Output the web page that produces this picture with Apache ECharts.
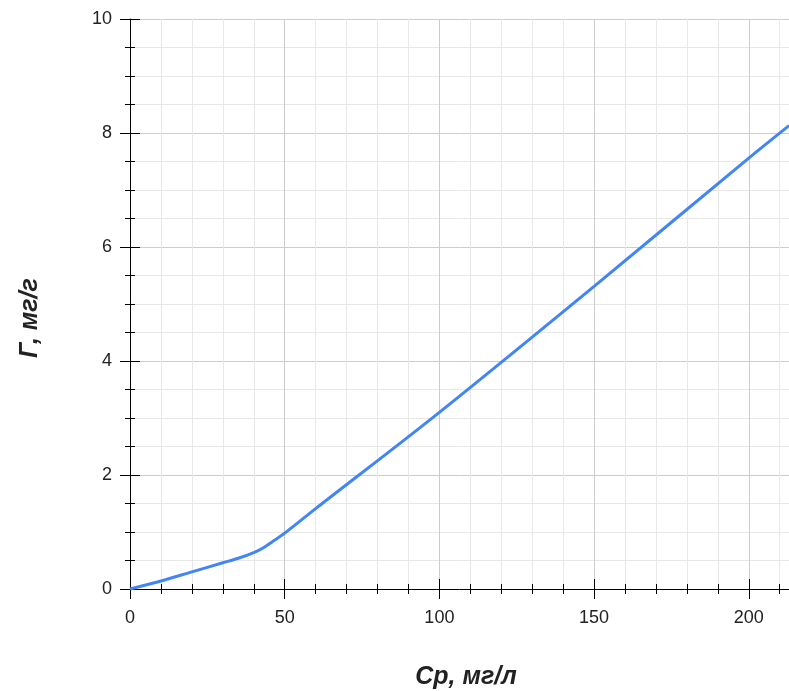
<!DOCTYPE html>
<html>
<head>
<meta charset="utf-8">
<script src="https://cdn.jsdelivr.net/npm/echarts@6/dist/echarts.min.js"></script>
<style>html,body{margin:0;padding:0;background:#fff}#c{width:789px;height:691px}</style>
</head>
<body>
<div id="c"></div>
<script>
const xValues = [0, 10, 20, 30, 35, 40, 43, 46, 50, 60, 100, 150, 200, 213];
const yValues = [0, 0.14, 0.30, 0.46, 0.54, 0.64, 0.72, 0.83, 0.98, 1.41, 3.10, 5.31, 7.56, 8.13];
const xTitle = 'Ср, мг/л';
const yTitle = 'Г, мг/г';
const xMin = 0, xMax = 213, xStep = 50;
const yMin = 0, yMax = 10, yStep = 2;

const font = '"Liberation Sans", Arial, sans-serif';
const chart = echarts.init(document.getElementById('c'), null, {renderer: 'canvas'});
const data = xValues.map((x, i) => [x, yValues[i]]);
const tickStyle = {color: '#000', width: 1};

// kind: 'main' (line, labels, grid), 'major' (crossing major ticks), 'minor' (crossing minor ticks)
function axisBase(kind, min, max, step, split, pos, labelMargin) {
  const main = kind === 'main';
  return {
    type: 'value', position: pos, gridIndex: 0,
    min: min, max: max, interval: step,
    offset: kind === 'major' ? -10 : (kind === 'minor' ? -5 : 0),
    axisLine: {show: main, onZero: false, lineStyle: {color: '#000', width: 1}},
    axisTick: {show: kind === 'major', inside: false, length: 20, lineStyle: tickStyle},
    minorTick: {show: kind === 'minor', splitNumber: split, length: 10, lineStyle: tickStyle},
    axisLabel: {show: main, margin: labelMargin, fontSize: 18, color: '#222', fontFamily: font, showMaxLabel: pos === 'left'},
    splitLine: {show: main, lineStyle: {color: '#cccccc', width: 1}},
    minorSplitLine: {show: main, lineStyle: {color: '#e8e8e8', width: 1}}
  };
}

chart.setOption({
  animation: false,
  backgroundColor: '#fff',
  grid: {left: 130, right: 0, top: 19, bottom: 102, containLabel: false},
  xAxis: ['main', 'major', 'minor'].map(k => axisBase(k, xMin, xMax, xStep, 5, 'bottom', 20)),
  yAxis: ['main', 'major', 'minor'].map(k => axisBase(k, yMin, yMax, yStep, 4, 'left', 18)),
  series: [{
    type: 'line', xAxisIndex: 0, yAxisIndex: 0,
    data: data, showSymbol: false, smooth: 0.3,
    lineStyle: {color: '#4285f4', width: 3},
    clip: true
  }],
  graphic: [
    {type: 'text', x: 466, y: 677, style: {text: xTitle, fontSize: 25, fontWeight: 'bold', fontStyle: 'italic', fontFamily: font, fill: '#222', align: 'center', verticalAlign: 'middle'}},
    {type: 'text', x: 30, y: 318, rotation: Math.PI / 2, style: {text: yTitle, fontSize: 25, fontWeight: 'bold', fontStyle: 'italic', fontFamily: font, fill: '#222', align: 'center', verticalAlign: 'middle'}}
  ]
});
</script>
</body>
</html>
